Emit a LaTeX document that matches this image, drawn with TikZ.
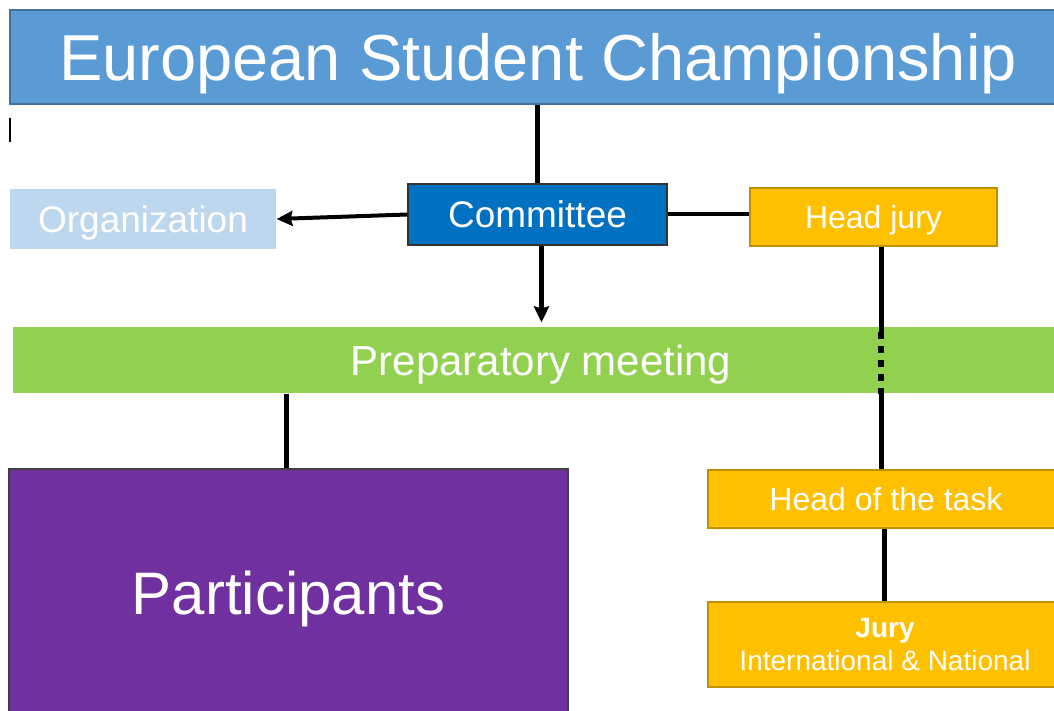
\documentclass[tikz,border=0pt]{standalone}
\usepackage{fontspec}
\setmainfont{Liberation Sans}
\usetikzlibrary{arrows.meta}
\definecolor{titleblue}{HTML}{5B9BD5}
\definecolor{titleedge}{HTML}{41719C}
\definecolor{comblue}{HTML}{0070C0}
\definecolor{orglight}{HTML}{BDD7EE}
\definecolor{juryorange}{HTML}{FFC000}
\definecolor{juryedge}{HTML}{BF9000}
\definecolor{prepgreen}{HTML}{92D050}
\definecolor{partpurple}{HTML}{7030A0}
\begin{document}
\begin{tikzpicture}[x=1pt, y=-1pt, line width=5pt, >={Stealth[length=16pt,width=15pt,inset=2pt]},
  box/.style={rectangle, inner sep=0pt, text=white, text depth=0pt, line width=1.2pt},
  jury node/.style={box, fill=juryorange, draw=juryedge, font=\fontsize{32}{38}\selectfont}]
\useasboundingbox (0,0) rectangle (1054,711);
\begin{scope}
\node[box, fill=titleblue, draw=titleedge, minimum width=1056pt, minimum height=94pt, font=\fontsize{65}{78}\selectfont] (title) at (538,57) {European Student Championship};
\node[box, fill=comblue, draw=black!80, minimum width=259pt, minimum height=61pt, font=\fontsize{37}{44}\selectfont] (committee) at (537.5,214.5) {Committee};
\node[box, fill=orglight, minimum width=266pt, minimum height=60pt, font=\fontsize{37}{44}\selectfont] (org) at (143,219) {Organization};
\node[jury node, minimum width=247pt, minimum height=58pt] (headjury) at (873.5,217) {Head jury};
\node[box, fill=prepgreen, minimum width=1056pt, minimum height=66pt, font=\fontsize{42}{50}\selectfont] (prep) at (541,360) {Preparatory meeting};
\node[jury node, minimum width=356pt, minimum height=58pt] (headtask) at (886,499) {Head of the task};
\node[jury node, minimum width=354pt, minimum height=85pt, align=center, font=\fontsize{28}{33}\selectfont] (jury) at (885,644.5) {\textbf{Jury}\\International \& National};
\node[box, fill=partpurple, draw=black!75, minimum width=559pt, minimum height=248pt, font=\fontsize{60}{72}\selectfont] (part) at (288.5,593) {Participants};
\end{scope}
\draw[line width=1.5pt] (10,118) -- (10,142);
\begin{scope}
\draw (committee.north |- title.south) -- (committee.north);
\draw[->, line width=4pt] (committee.west) -- (org.east);
\draw[line width=4pt] (committee.east) -- (committee.east -| headjury.west);
\draw[->, shorten >=4pt] ([xshift=4pt]committee.south) -- ([xshift=4pt]committee.south |- prep.north);
\draw ([xshift=-5pt]headtask.north |- headjury.south) -- ([xshift=-5pt,yshift=-6pt]headtask.north |- prep.north);
\draw[line width=6pt, dash pattern=on 7pt off 7pt] ([xshift=-5pt,yshift=-6pt]headtask.north |- prep.north) -- ([xshift=-5pt]headtask.north |- prep.south);
\draw ([xshift=-5pt]headtask.north |- prep.south) -- ([xshift=-5pt]headtask.north);
\draw ([xshift=-2pt]headtask.south) -- ([xshift=-1pt]jury.north);
\draw ([xshift=-2.5pt]part.north |- prep.south) -- ([xshift=-2.5pt]part.north);
\end{scope}
\end{tikzpicture}
\end{document}
